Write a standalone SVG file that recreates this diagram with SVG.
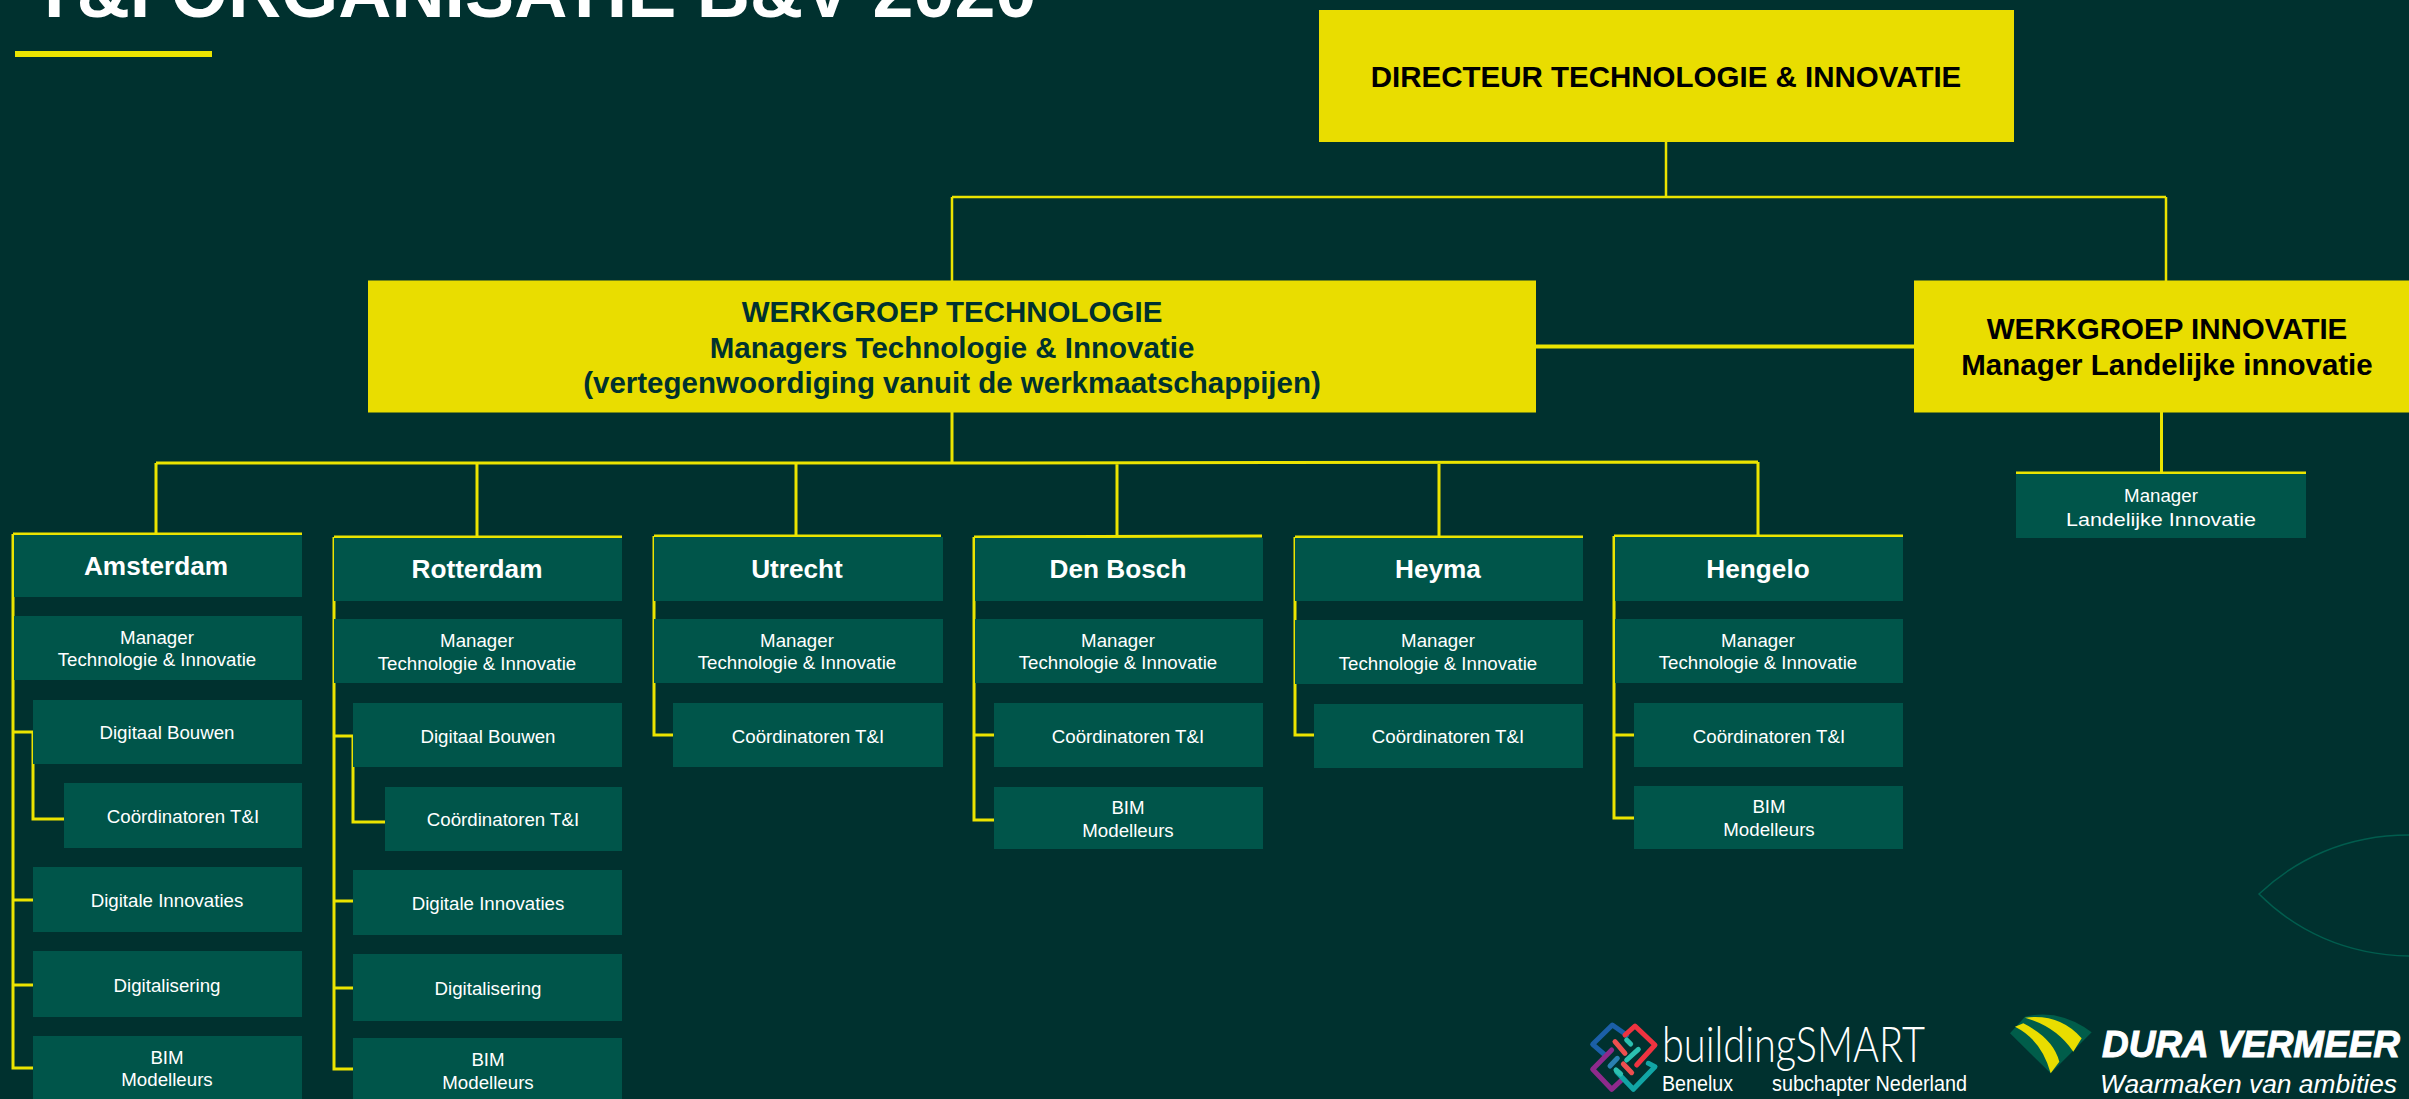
<svg xmlns="http://www.w3.org/2000/svg" width="2409" height="1099" viewBox="0 0 2409 1099">
<style>
.y{fill:#e9dd00}.b{fill:#00554a}
.l{fill:none;stroke:#ebe400;stroke-width:3}
text{font-family:"Liberation Sans",Arial,sans-serif;text-anchor:middle}
.t{fill:#fff;font-size:18.7px}
.h{fill:#fff;font-size:26.2px;font-weight:700}
.d{fill:#00312f;font-size:29.5px;font-weight:700}
.k{fill:#000}
.s{text-anchor:start;fill:#fff}
</style>
<rect width="2409" height="1099" fill="#00312f"/>
<text x="534" y="17" fill="#fff" font-size="73.6" font-weight="700">T&amp;I ORGANISATIE B&amp;V 2020</text>
<rect x="15" y="51" width="197" height="6" fill="#ebe400"/>
<path d="M2409 835C2345 835 2295 860 2259 894C2295 930 2345 955 2409 956" fill="none" stroke="#005d4e" stroke-width="1.5"/>
<g id="connectors" class="l">
<path d="M1666 142V197M952 197H2166M952 197V281M2166 197V281" stroke-width="2.5"/>
<path d="M1536 346.5H1915" stroke-width="4"/>
<path d="M952 412V463M156 463H952L1758 462M156 463V534M477 463V537M796 463V536M1117 463V537M1439 463V536M1758 462V536M2161.500 412V473" stroke-width="3"/>
</g>
<g id="connectors-branches" class="l">
<path d="M13 534H302M13 534V1068H33M13 732H33V819H64M13 900H33M13 985H33"/>
<path d="M334 537H622M334 537V1069H353M334 736H353V822H385M334 901H353M334 988H353"/>
<path d="M654 536H941M654 536V735H673"/>
<path d="M974 537L1262 536M974 537V820H994M974 735H994"/>
<path d="M1295 537H1583M1295 537V735H1314"/>
<path d="M1614 536H1903M1614 536V818H1634M1614 735H1634"/>
<path d="M2016 473H2306"/>
</g>
<g id="top"><rect class="y" x="1319" y="10" width="695" height="132"/><text class="d k" x="1666" y="87">DIRECTEUR TECHNOLOGIE &amp; INNOVATIE</text></g>
<g id="wg-tech"><rect class="y" x="368" y="280.500" width="1168" height="132"/><text class="d" x="952" y="322">WERKGROEP TECHNOLOGIE</text><text class="d" x="952" y="358">Managers Technologie &amp; Innovatie</text><text class="d" x="952" y="393">(vertegenwoordiging vanuit de werkmaatschappijen)</text></g>
<g id="wg-inno"><rect class="y" x="1914" y="280.500" width="495" height="132"/><text class="d k" x="2167" y="339">WERKGROEP INNOVATIE</text><text class="d k" x="2167" y="375">Manager Landelijke innovatie</text></g>
<g id="amsterdam">
<rect class="b" x="14" y="535" width="288" height="62"/><text class="h" x="156" y="575">Amsterdam</text>
<rect class="b" x="14" y="616" width="288" height="64"/><text class="t" x="157" y="644">Manager</text><text class="t" x="157" y="666">Technologie &amp; Innovatie</text>
<rect class="b" x="33" y="700" width="269" height="64"/><text class="t" x="167" y="739">Digitaal Bouwen</text>
<rect class="b" x="64" y="783" width="238" height="65"/><text class="t" x="183" y="823">Coördinatoren T&amp;I</text>
<rect class="b" x="33" y="867" width="269" height="65"/><text class="t" x="167" y="907">Digitale Innovaties</text>
<rect class="b" x="33" y="951" width="269" height="66"/><text class="t" x="167" y="992">Digitalisering</text>
<rect class="b" x="33" y="1036" width="269" height="63"/><text class="t" x="167" y="1064">BIM</text><text class="t" x="167" y="1086">Modelleurs</text>
</g>
<g id="rotterdam">
<rect class="b" x="334" y="538" width="288" height="63"/><text class="h" x="477" y="578">Rotterdam</text>
<rect class="b" x="334" y="619" width="288" height="64"/><text class="t" x="477" y="647">Manager</text><text class="t" x="477" y="670">Technologie &amp; Innovatie</text>
<rect class="b" x="353" y="703" width="269" height="64"/><text class="t" x="488" y="743">Digitaal Bouwen</text>
<rect class="b" x="385" y="787" width="237" height="64"/><text class="t" x="503" y="826">Coördinatoren T&amp;I</text>
<rect class="b" x="353" y="870" width="269" height="65"/><text class="t" x="488" y="910">Digitale Innovaties</text>
<rect class="b" x="353" y="954" width="269" height="67"/><text class="t" x="488" y="995">Digitalisering</text>
<rect class="b" x="353" y="1038" width="269" height="61"/><text class="t" x="488" y="1066">BIM</text><text class="t" x="488" y="1089">Modelleurs</text>
</g>
<g id="utrecht">
<rect class="b" x="654" y="537" width="289" height="64"/><text class="h" x="797" y="578">Utrecht</text>
<rect class="b" x="654" y="619" width="289" height="64"/><text class="t" x="797" y="647">Manager</text><text class="t" x="797" y="669">Technologie &amp; Innovatie</text>
<rect class="b" x="673" y="703" width="270" height="64"/><text class="t" x="808" y="743">Coördinatoren T&amp;I</text>
</g>
<g id="denbosch">
<rect class="b" x="975" y="538" width="288" height="63"/><text class="h" x="1118" y="578">Den Bosch</text>
<rect class="b" x="975" y="619" width="288" height="64"/><text class="t" x="1118" y="647">Manager</text><text class="t" x="1118" y="669">Technologie &amp; Innovatie</text>
<rect class="b" x="994" y="703" width="269" height="64"/><text class="t" x="1128" y="743">Coördinatoren T&amp;I</text>
<rect class="b" x="994" y="787" width="269" height="62"/><text class="t" x="1128" y="814">BIM</text><text class="t" x="1128" y="837">Modelleurs</text>
</g>
<g id="heyma">
<rect class="b" x="1295" y="538" width="288" height="63"/><text class="h" x="1438" y="578">Heyma</text>
<rect class="b" x="1295" y="620" width="288" height="64"/><text class="t" x="1438" y="647">Manager</text><text class="t" x="1438" y="670">Technologie &amp; Innovatie</text>
<rect class="b" x="1314" y="704" width="269" height="64"/><text class="t" x="1448" y="743">Coördinatoren T&amp;I</text>
</g>
<g id="hengelo">
<rect class="b" x="1615" y="537" width="288" height="64"/><text class="h" x="1758" y="578">Hengelo</text>
<rect class="b" x="1615" y="619" width="288" height="64"/><text class="t" x="1758" y="647">Manager</text><text class="t" x="1758" y="669">Technologie &amp; Innovatie</text>
<rect class="b" x="1634" y="703" width="269" height="64"/><text class="t" x="1769" y="743">Coördinatoren T&amp;I</text>
<rect class="b" x="1634" y="786" width="269" height="63"/><text class="t" x="1769" y="813">BIM</text><text class="t" x="1769" y="836">Modelleurs</text>
</g>
<g id="landelijk">
<rect class="b" x="2016" y="474" width="290" height="64"/><text class="t" x="2161" y="502">Manager</text><text class="t" x="2161" y="526" textLength="190" lengthAdjust="spacingAndGlyphs">Landelijke Innovatie</text>
</g>
<g id="buildingsmart">
<g transform="translate(1580 1010) scale(.3333)" fill="none" stroke-width="15" stroke-linecap="round" stroke-linejoin="round">
<path d="M75 135L38 103L97 45L140 75" stroke="#1b5fa8"/>
<path d="M135 75L165 48L225 105L170 165" stroke="#ef3340"/>
<path d="M95 120L38 178L95 238L125 210" stroke="#8e2a8c"/>
<path d="M110 185L160 238L225 170L205 160" stroke="#12a5a5"/>
<path d="M105 95L135 130M130 162L155 188" stroke="#ef4f4f"/>
<path d="M140 90L152 102M140 150L175 118M108 180L122 192" stroke="#2cc0b0"/>
<path d="M90 168L112 145" stroke="#2a80b0"/>
</g>
<text class="s" x="1662" y="1062" font-size="50" style="font-family:Lato,'Liberation Sans',sans-serif;font-weight:300" textLength="263" lengthAdjust="spacingAndGlyphs">buildingSMART</text>
<text class="s" x="1662" y="1091" font-size="22" textLength="71" lengthAdjust="spacingAndGlyphs">Benelux</text>
<text class="s" x="1772" y="1091" font-size="22" textLength="195" lengthAdjust="spacingAndGlyphs">subchapter Nederland</text>
</g>
<g id="duravermeer">
<g transform="translate(2000 1005) scale(.3333)">
<path d="M30 85L75 35Q180 10 275 82L152 205Z" fill="#005d4a"/>
<path d="M45 65L70 55Q160 100 178 170L152 205Q125 105 45 65Z" fill="#e9dd00"/>
<path d="M75 38Q180 25 245 100L220 140Q170 65 75 38Z" fill="#e9dd00"/>
</g>
<text class="s" x="2102" y="1057" font-size="36" font-weight="700" font-style="italic" stroke="#fff" stroke-width="1" textLength="298" lengthAdjust="spacingAndGlyphs">DURA VERMEER</text>
<text class="s" x="2100" y="1093" font-size="26" font-style="italic" textLength="297" lengthAdjust="spacingAndGlyphs">Waarmaken van ambities</text>
</g>
</svg>
